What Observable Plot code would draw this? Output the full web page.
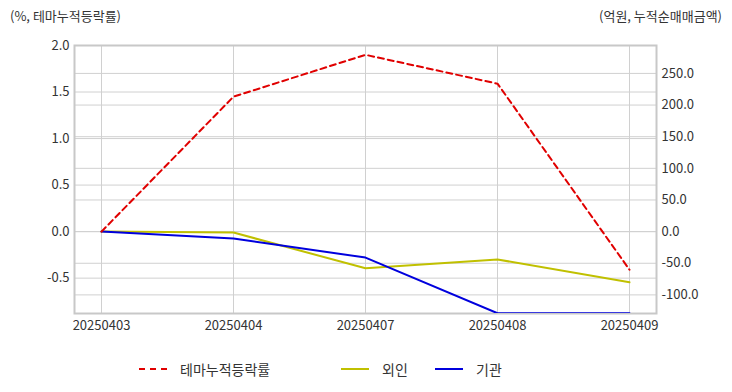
<!DOCTYPE html>
<html>
<head>
<meta charset="utf-8">
<script src="https://cdn.jsdelivr.net/npm/d3@7"></script>
<script src="https://cdn.jsdelivr.net/npm/@observablehq/plot@0.6"></script>
<style>
  html, body { margin: 0; padding: 0; background: #fff; }
  body { width: 732px; height: 392px; position: relative; overflow: hidden;
         font-family: "Noto Sans CJK KR", "Noto Sans", sans-serif; color: #333; }
  .ttl { position: absolute; top: 6px; font-size: 13px; color: #333; }
  #chart { position: absolute; left: 0; top: 29px; }
  .leg { position: absolute; top: 359px; display: flex; align-items: center; font-size: 14px; color: #333; }
  .sw { width: 28px; height: 0; margin-right: 13px; }
</style>
</head>
<body>
<div class="ttl" style="left:10px">(%, 테마누적등락률)</div>
<div class="ttl" style="right:10px">(억원, 누적순매매금액)</div>
<div id="chart"></div>
<div class="leg" style="left:139px"><div class="sw" style="border-top:2px dashed #e00000"></div>테마누적등락률</div>
<div class="leg" style="left:341px"><div class="sw" style="border-top:2px solid #c0c000"></div>외인</div>
<div class="leg" style="left:435px"><div class="sw" style="border-top:2px solid #0000dd"></div>기관</div>
<script>
const dates = ["20250403", "20250404", "20250407", "20250408", "20250409"];
const themeRate = [0.0, 1.45, 1.90, 1.59, -0.41];      // % (left axis)
const foreign = [0.0, -1.5, -58, -44, -80];            // 억원 (right axis)
const institution = [0.0, -11, -41, -129, -129];       // 억원 (right axis, clipped at bottom)
const leftTicks = [-0.5, 0.0, 0.5, 1.0, 1.5, 2.0];
const rightTicks = [-100, -50, 0, 50, 100, 150, 200, 250];
const leftDomain = [-0.88, 2.0];
const rightDomain = [-129.4, 294.1];

const k = (leftDomain[1] - leftDomain[0]) / (rightDomain[1] - rightDomain[0]);
const toLeft = v => leftDomain[0] + (v - rightDomain[0]) * k;

const theme = dates.map((d, i) => ({date: d, v: themeRate[i]}));
const fr = dates.map((d, i) => ({date: d, v: toLeft(foreign[i])}));
const inst = dates.map((d, i) => ({date: d, v: toLeft(institution[i])}));

const chart = Plot.plot({
  width: 732,
  height: 310,
  marginLeft: 74,
  marginRight: 76,
  marginTop: 16,
  marginBottom: 26,
  style: {fontFamily: "'Noto Sans CJK KR', 'Noto Sans', sans-serif", fontSize: "13px", color: "#333"},
  x: {type: "point", domain: dates, padding: 0.197},
  y: {domain: leftDomain},
  marks: [
    Plot.gridY(leftTicks, {stroke: "#d0d0d0", strokeOpacity: 1}),
    Plot.gridY(rightTicks.map(toLeft), {stroke: "#d0d0d0", strokeOpacity: 1}),
    Plot.gridX(dates, {stroke: "#d0d0d0", strokeOpacity: 1}),
    Plot.frame({stroke: "#c8c8c8", strokeWidth: 2}),
    Plot.axisY(leftTicks, {anchor: "left", tickSize: 0, tickPadding: 5, tickFormat: d => d.toFixed(1), label: null}),
    Plot.axisY(rightTicks.map(toLeft), {anchor: "right", tickSize: 0, tickPadding: 5,
      tickFormat: d => ((d - leftDomain[0]) / k + rightDomain[0]).toFixed(1), label: null}),
    Plot.axisX(dates, {tickSize: 0, tickPadding: 7, label: null}),
    Plot.line(fr, {x: "date", y: "v", stroke: "#c0c000", strokeWidth: 2, clip: true}),
    Plot.line(inst, {x: "date", y: "v", stroke: "#0000dd", strokeWidth: 2, clip: true}),
    Plot.line(theme, {x: "date", y: "v", stroke: "#e00000", strokeWidth: 2, strokeDasharray: "6,4", clip: true})
  ]
});
document.getElementById("chart").appendChild(chart);
</script>
</body>
</html>
